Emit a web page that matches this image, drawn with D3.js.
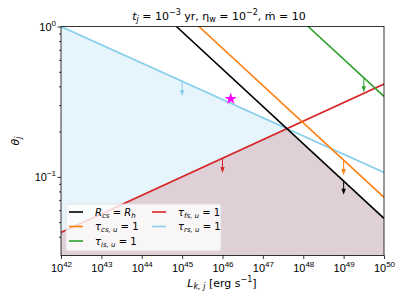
<!DOCTYPE html>
<html>
<head>
<meta charset="utf-8">
<script src="https://cdn.jsdelivr.net/npm/d3@7"></script>
<style>
  body { margin: 0; background: #fff; }
  svg { font-family: "DejaVu Sans", sans-serif; }
  .axis path, .axis line { stroke: #000; stroke-width: 0.8; }
  .axis text { font-size: 11px; fill: #000; }
</style>
</head>
<body>
<svg id="chart" width="407" height="305"></svg>
<script>
// data: each line is a power law, so two ends are enough
const lumDomain = [1e42, 1e50];
const thetaDomain = [0.03, 1];
const lumTicks = [1e42, 1e43, 1e44, 1e45, 1e46, 1e47, 1e48, 1e49, 1e50];
const lumTickExp = ["42", "43", "44", "45", "46", "47", "48", "49", "50"];
const thetaTicks = [1, 0.1];
const thetaTickExp = ["0", "\u22121"];
const thetaMinor = [0.04, 0.05, 0.06, 0.07, 0.08, 0.09, 0.2, 0.3, 0.4, 0.5, 0.6, 0.7, 0.8, 0.9];

const rcsLine = [[7.2e44, 1.0], [1e50, 0.053]];   // R_cs = R_h
const csLine = [[2.6e45, 1.0], [1e50, 0.073]];    // tau_cs,u = 1
const isLine = [[1.32e48, 1.0], [1e50, 0.343]];   // tau_is,u = 1
const fsLine = [[1e42, 0.0427], [1e50, 0.414]];   // tau_fs,u = 1
const rsLine = [[1e42, 1.0], [1e50, 0.107]];      // tau_rs,u = 1

// arrows: [L, theta start, theta end]
const rsArrow = [1e45, 0.43, 0.345];
const fsArrow = [1e46, 0.133, 0.106];
const isArrow = [3.16e49, 0.456, 0.365];
const csArrow = [1e49, 0.129, 0.103];
const rcsArrow = [1e49, 0.095, 0.076];

const starPoint = [1.6e46, 0.33];

const margin = { top: 26.5, right: 23, bottom: 49.5, left: 61 },
    width = 407 - margin.left - margin.right,
    height = 305 - margin.top - margin.bottom;

const svg = d3.select("#chart");
const g = svg.append("g")
    .attr("transform", `translate(${margin.left},${margin.top})`);

const x = d3.scaleLog().domain(lumDomain).range([0, width]);
const y = d3.scaleLog().domain(thetaDomain).range([height, 0]);

g.append("clipPath").attr("id", "clip")
    .append("rect").attr("width", width).attr("height", height);

// crossing of two straight lines in log-log space
function crossing(a, b) {
    const la = a.map(p => [Math.log10(p[0]), Math.log10(p[1])]);
    const lb = b.map(p => [Math.log10(p[0]), Math.log10(p[1])]);
    const sa = (la[1][1] - la[0][1]) / (la[1][0] - la[0][0]);
    const sb = (lb[1][1] - lb[0][1]) / (lb[1][0] - lb[0][0]);
    const ia = la[0][1] - sa * la[0][0];
    const ib = lb[0][1] - sb * lb[0][0];
    const lx = (ib - ia) / (sa - sb);
    return [Math.pow(10, lx), Math.pow(10, sa * lx + ia)];
}

const line = d3.line().x(d => x(d[0])).y(d => y(d[1]));
const plot = g.append("g").attr("clip-path", "url(#clip)");

// fills
const rsFs = crossing(rsLine, fsLine);
const fsRcs = crossing(fsLine, rcsLine);
const yMin = thetaDomain[0];

plot.append("path")
    .datum([[lumDomain[0], yMin], rsLine[0], rsFs, [rsFs[0], yMin]])
    .attr("d", line)
    .attr("fill", "#e6f4fb");

plot.append("path")
    .datum([[lumDomain[0], yMin], fsLine[0], fsRcs, rcsLine[1], [lumDomain[1], yMin]])
    .attr("d", line)
    .attr("fill", "#dfd0d8");

// lines
const series = [
    { pts: rsLine, color: "#87ceeb", arrow: rsArrow },
    { pts: fsLine, color: "#d62728", arrow: fsArrow },
    { pts: isLine, color: "#2ca02c", arrow: isArrow },
    { pts: csLine, color: "#ff7f0e", arrow: csArrow },
    { pts: rcsLine, color: "#000000", arrow: rcsArrow }
];

series.forEach(s => {
    plot.append("path")
        .datum(s.pts)
        .attr("d", line)
        .attr("fill", "none")
        .attr("stroke", s.color)
        .attr("stroke-width", 1.6);
});

// arrows pointing down
series.forEach(s => {
    const ax = x(s.arrow[0]), y0 = y(s.arrow[1]), y1 = y(s.arrow[2]);
    plot.append("line")
        .attr("x1", ax).attr("x2", ax)
        .attr("y1", y0).attr("y2", y1 - 5)
        .attr("stroke", s.color)
        .attr("stroke-width", 1);
    plot.append("path")
        .attr("d", `M${ax - 2.2},${y1 - 6}L${ax + 2.2},${y1 - 6}L${ax},${y1}Z`)
        .attr("fill", s.color);
});

// star
plot.append("path")
    .attr("d", d3.symbol().type(d3.symbolStar).size(45)())
    .attr("transform", `translate(${x(starPoint[0])},${y(starPoint[1])})`)
    .attr("fill", "#ff00ff");

// axes
const xAxis = g.append("g")
    .attr("class", "axis")
    .attr("transform", `translate(0,${height})`)
    .call(d3.axisBottom(x).tickValues(lumTicks).tickFormat("").tickSizeOuter(0).tickSize(3.5));
xAxis.select(".domain").remove();
xAxis.selectAll(".tick").each(function (d, i) {
    const t = d3.select(this).append("text")
        .attr("y", 16)
        .attr("text-anchor", "middle")
        .attr("fill", "#000");
    t.append("tspan").text("10");
    t.append("tspan").attr("dy", -5).attr("font-size", "8px").text(lumTickExp[i]);
});

const yAxis = g.append("g")
    .attr("class", "axis")
    .call(d3.axisLeft(y).tickValues(thetaTicks).tickFormat("").tickSizeOuter(0).tickSize(3.5));
yAxis.select(".domain").remove();
yAxis.selectAll(".tick").each(function (d, i) {
    const t = d3.select(this).append("text")
        .attr("x", -5)
        .attr("y", 4)
        .attr("text-anchor", "end")
        .attr("fill", "#000");
    t.append("tspan").text("10");
    t.append("tspan").attr("dy", -5).attr("font-size", "8px").text(thetaTickExp[i]);
});

const yMinorAxis = g.append("g")
    .attr("class", "axis")
    .call(d3.axisLeft(y).tickValues(thetaMinor).tickFormat("").tickSizeOuter(0).tickSize(2));
yMinorAxis.select(".domain").remove();

// frame
g.append("rect")
    .attr("width", width).attr("height", height)
    .attr("fill", "none").attr("stroke", "#000").attr("stroke-width", 0.8);

// legend
const legendItems = [
    { color: "#000000", main: "R", sub: "cs", rest: " = ", main2: "R", sub2: "h", col: 0, row: 0 },
    { color: "#ff7f0e", main: "\u03c4", sub: "cs, u", rest: " = 1", col: 0, row: 1 },
    { color: "#2ca02c", main: "\u03c4", sub: "is, u", rest: " = 1", col: 0, row: 2 },
    { color: "#d62728", main: "\u03c4", sub: "fs, u", rest: " = 1", col: 1, row: 0 },
    { color: "#87ceeb", main: "\u03c4", sub: "rs, u", rest: " = 1", col: 1, row: 1 }
];

const legend = svg.append("g");
legend.append("rect")
    .attr("x", 66).attr("y", 204)
    .attr("width", 155).attr("height", 47)
    .attr("rx", 2)
    .attr("fill", "#fff").attr("fill-opacity", 0.8)
    .attr("stroke", "#ddd").attr("stroke-width", 0.8);

legendItems.forEach(d => {
    const lx = 69 + d.col * 83, ly = 212 + d.row * 14.5;
    legend.append("line")
        .attr("x1", lx).attr("x2", lx + 14)
        .attr("y1", ly).attr("y2", ly)
        .attr("stroke", d.color).attr("stroke-width", 1.6);
    const t = legend.append("text")
        .attr("x", lx + 26).attr("y", ly + 3.5)
        .attr("font-size", "10px");
    t.append("tspan").attr("font-style", "italic").text(d.main);
    t.append("tspan").attr("font-style", "italic").attr("font-size", "7px").attr("dy", 2).text(d.sub);
    t.append("tspan").attr("dy", -2).text(d.rest);
    if (d.main2) {
        t.append("tspan").attr("font-style", "italic").text(d.main2);
        t.append("tspan").attr("font-style", "italic").attr("font-size", "7px").attr("dy", 2).text(d.sub2);
    }
});

// title
const title = svg.append("text")
    .attr("x", 219).attr("y", 20)
    .attr("text-anchor", "middle")
    .attr("font-size", "11px");
title.append("tspan").attr("font-style", "italic").text("t");
title.append("tspan").attr("font-style", "italic").attr("font-size", "8px").attr("dy", 2).text("j");
title.append("tspan").attr("dy", -2).text(" = 10");
title.append("tspan").attr("font-size", "8px").attr("dy", -5).text("\u22123");
title.append("tspan").attr("dy", 5).text(" yr,  \u03b7");
title.append("tspan").attr("font-size", "8px").attr("dy", 2).text("w");
title.append("tspan").attr("dy", -2).text(" = 10");
title.append("tspan").attr("font-size", "8px").attr("dy", -5).text("\u22122");
title.append("tspan").attr("dy", 5).text(",  \u1e41 = 10");

// axis labels
const xl = svg.append("text")
    .attr("x", 222).attr("y", 287)
    .attr("text-anchor", "middle")
    .attr("font-size", "11px");
xl.append("tspan").attr("font-style", "italic").text("L");
xl.append("tspan").attr("font-style", "italic").attr("font-size", "8px").attr("dy", 2).text("k, j");
xl.append("tspan").attr("dy", -2).text(" [erg s");
xl.append("tspan").attr("font-size", "8px").attr("dy", -5).text("\u22121");
xl.append("tspan").attr("dy", 5).text("]");

const yl = svg.append("text")
    .attr("transform", "translate(19,141) rotate(-90)")
    .attr("text-anchor", "middle")
    .attr("font-size", "11px");
yl.append("tspan").attr("font-style", "italic").text("\u03b8");
yl.append("tspan").attr("font-style", "italic").attr("font-size", "8px").attr("dy", 2).text("j");
</script>
</body>
</html>
